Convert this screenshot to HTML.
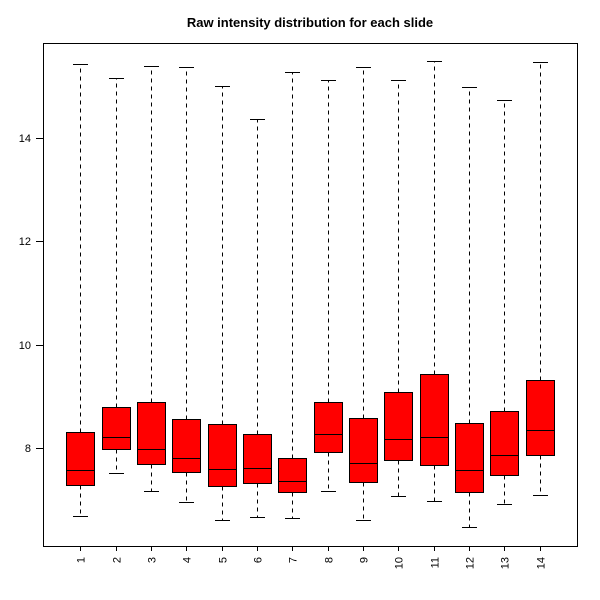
<!DOCTYPE html>
<html><head><meta charset="utf-8"><style>
html,body{margin:0;padding:0;background:#fff;}
svg{display:block;}
text{font-family:"Liberation Sans",Arial,sans-serif;fill:#000;}
</style></head><body>
<svg width="600" height="600" viewBox="0 0 600 600" xmlns="http://www.w3.org/2000/svg">
<rect x="0" y="0" width="600" height="600" fill="#fff"/>
<text x="310" y="27" text-anchor="middle" font-size="13" font-weight="bold">Raw intensity distribution for each slide</text>
<g stroke="#000" stroke-width="1" shape-rendering="crispEdges" fill="none">
<rect x="43.5" y="43.5" width="534" height="503"/>
<!-- y ticks -->
<line x1="36" y1="138.5" x2="43.5" y2="138.5"/>
<line x1="36" y1="241.5" x2="43.5" y2="241.5"/>
<line x1="36" y1="345.5" x2="43.5" y2="345.5"/>
<line x1="36" y1="448.5" x2="43.5" y2="448.5"/>
<!-- x ticks -->
<line x1="80.5" y1="546.5" x2="80.5" y2="551"/>
<line x1="116.5" y1="546.5" x2="116.5" y2="551"/>
<line x1="151.5" y1="546.5" x2="151.5" y2="551"/>
<line x1="186.5" y1="546.5" x2="186.5" y2="551"/>
<line x1="222.5" y1="546.5" x2="222.5" y2="551"/>
<line x1="257.5" y1="546.5" x2="257.5" y2="551"/>
<line x1="292.5" y1="546.5" x2="292.5" y2="551"/>
<line x1="328.5" y1="546.5" x2="328.5" y2="551"/>
<line x1="363.5" y1="546.5" x2="363.5" y2="551"/>
<line x1="398.5" y1="546.5" x2="398.5" y2="551"/>
<line x1="434.5" y1="546.5" x2="434.5" y2="551"/>
<line x1="469.5" y1="546.5" x2="469.5" y2="551"/>
<line x1="504.5" y1="546.5" x2="504.5" y2="551"/>
<line x1="540.5" y1="546.5" x2="540.5" y2="551"/>
</g>
<g font-size="11" text-anchor="end">
<text x="31" y="142">14</text>
<text x="31" y="245">12</text>
<text x="31" y="349">10</text>
<text x="31" y="452">8</text>
</g>
<g font-size="11" text-anchor="end">
<text transform="translate(84.5,557) rotate(-90)">1</text>
<text transform="translate(120.5,557) rotate(-90)">2</text>
<text transform="translate(155.5,557) rotate(-90)">3</text>
<text transform="translate(190.5,557) rotate(-90)">4</text>
<text transform="translate(226.5,557) rotate(-90)">5</text>
<text transform="translate(261.5,557) rotate(-90)">6</text>
<text transform="translate(296.5,557) rotate(-90)">7</text>
<text transform="translate(332.5,557) rotate(-90)">8</text>
<text transform="translate(367.5,557) rotate(-90)">9</text>
<text transform="translate(402.5,557) rotate(-90)">10</text>
<text transform="translate(438.5,557) rotate(-90)">11</text>
<text transform="translate(473.5,557) rotate(-90)">12</text>
<text transform="translate(508.5,557) rotate(-90)">13</text>
<text transform="translate(544.5,557) rotate(-90)">14</text>
</g>
<!-- whiskers dashed -->
<g stroke="#000" stroke-width="1" stroke-dasharray="4 4" shape-rendering="crispEdges" fill="none">
<line x1="80.5" y1="432.5" x2="80.5" y2="64.5"/><line x1="80.5" y1="485.5" x2="80.5" y2="516.5"/>
<line x1="116.5" y1="407.5" x2="116.5" y2="78.5"/><line x1="116.5" y1="449.5" x2="116.5" y2="473.5"/>
<line x1="151.5" y1="402.5" x2="151.5" y2="66.5"/><line x1="151.5" y1="464.5" x2="151.5" y2="491.5"/>
<line x1="186.5" y1="419.5" x2="186.5" y2="67.5"/><line x1="186.5" y1="472.5" x2="186.5" y2="502.5"/>
<line x1="222.5" y1="424.5" x2="222.5" y2="86.5"/><line x1="222.5" y1="486.5" x2="222.5" y2="520.5"/>
<line x1="257.5" y1="434.5" x2="257.5" y2="119.5"/><line x1="257.5" y1="483.5" x2="257.5" y2="517.5"/>
<line x1="292.5" y1="458.5" x2="292.5" y2="72.5"/><line x1="292.5" y1="492.5" x2="292.5" y2="518.5"/>
<line x1="328.5" y1="402.5" x2="328.5" y2="80.5"/><line x1="328.5" y1="452.5" x2="328.5" y2="491.5"/>
<line x1="363.5" y1="418.5" x2="363.5" y2="67.5"/><line x1="363.5" y1="482.5" x2="363.5" y2="520.5"/>
<line x1="398.5" y1="392.5" x2="398.5" y2="80.5"/><line x1="398.5" y1="460.5" x2="398.5" y2="496.5"/>
<line x1="434.5" y1="374.5" x2="434.5" y2="61.5"/><line x1="434.5" y1="465.5" x2="434.5" y2="501.5"/>
<line x1="469.5" y1="423.5" x2="469.5" y2="87.5"/><line x1="469.5" y1="492.5" x2="469.5" y2="527.5"/>
<line x1="504.5" y1="411.5" x2="504.5" y2="100.5"/><line x1="504.5" y1="475.5" x2="504.5" y2="504.5"/>
<line x1="540.5" y1="380.5" x2="540.5" y2="62.5"/><line x1="540.5" y1="455.5" x2="540.5" y2="495.5"/>
</g>
<!-- staples -->
<g stroke="#000" stroke-width="1" shape-rendering="crispEdges" fill="none">
<line x1="73" y1="64.5" x2="88" y2="64.5"/><line x1="73" y1="516.5" x2="88" y2="516.5"/>
<line x1="109" y1="78.5" x2="124" y2="78.5"/><line x1="109" y1="473.5" x2="124" y2="473.5"/>
<line x1="144" y1="66.5" x2="159" y2="66.5"/><line x1="144" y1="491.5" x2="159" y2="491.5"/>
<line x1="179" y1="67.5" x2="194" y2="67.5"/><line x1="179" y1="502.5" x2="194" y2="502.5"/>
<line x1="215" y1="86.5" x2="230" y2="86.5"/><line x1="215" y1="520.5" x2="230" y2="520.5"/>
<line x1="250" y1="119.5" x2="265" y2="119.5"/><line x1="250" y1="517.5" x2="265" y2="517.5"/>
<line x1="285" y1="72.5" x2="300" y2="72.5"/><line x1="285" y1="518.5" x2="300" y2="518.5"/>
<line x1="321" y1="80.5" x2="336" y2="80.5"/><line x1="321" y1="491.5" x2="336" y2="491.5"/>
<line x1="356" y1="67.5" x2="371" y2="67.5"/><line x1="356" y1="520.5" x2="371" y2="520.5"/>
<line x1="391" y1="80.5" x2="406" y2="80.5"/><line x1="391" y1="496.5" x2="406" y2="496.5"/>
<line x1="427" y1="61.5" x2="442" y2="61.5"/><line x1="427" y1="501.5" x2="442" y2="501.5"/>
<line x1="462" y1="87.5" x2="477" y2="87.5"/><line x1="462" y1="527.5" x2="477" y2="527.5"/>
<line x1="497" y1="100.5" x2="512" y2="100.5"/><line x1="497" y1="504.5" x2="512" y2="504.5"/>
<line x1="533" y1="62.5" x2="548" y2="62.5"/><line x1="533" y1="495.5" x2="548" y2="495.5"/>
</g>
<!-- boxes -->
<g stroke="#000" stroke-width="1" shape-rendering="crispEdges" fill="#ff0000">
<rect x="66.5" y="432.5" width="28" height="53"/>
<rect x="102.5" y="407.5" width="28" height="42"/>
<rect x="137.5" y="402.5" width="28" height="62"/>
<rect x="172.5" y="419.5" width="28" height="53"/>
<rect x="208.5" y="424.5" width="28" height="62"/>
<rect x="243.5" y="434.5" width="28" height="49"/>
<rect x="278.5" y="458.5" width="28" height="34"/>
<rect x="314.5" y="402.5" width="28" height="50"/>
<rect x="349.5" y="418.5" width="28" height="64"/>
<rect x="384.5" y="392.5" width="28" height="68"/>
<rect x="420.5" y="374.5" width="28" height="91"/>
<rect x="455.5" y="423.5" width="28" height="69"/>
<rect x="490.5" y="411.5" width="28" height="64"/>
<rect x="526.5" y="380.5" width="28" height="75"/>
</g>
<!-- medians -->
<g stroke="#000" stroke-width="1" shape-rendering="crispEdges" fill="none">
<line x1="66.5" y1="470.5" x2="94.5" y2="470.5"/>
<line x1="102.5" y1="437.5" x2="130.5" y2="437.5"/>
<line x1="137.5" y1="449.5" x2="165.5" y2="449.5"/>
<line x1="172.5" y1="458.5" x2="200.5" y2="458.5"/>
<line x1="208.5" y1="469.5" x2="236.5" y2="469.5"/>
<line x1="243.5" y1="468.5" x2="271.5" y2="468.5"/>
<line x1="278.5" y1="481.5" x2="306.5" y2="481.5"/>
<line x1="314.5" y1="434.5" x2="342.5" y2="434.5"/>
<line x1="349.5" y1="463.5" x2="377.5" y2="463.5"/>
<line x1="384.5" y1="439.5" x2="412.5" y2="439.5"/>
<line x1="420.5" y1="437.5" x2="448.5" y2="437.5"/>
<line x1="455.5" y1="470.5" x2="483.5" y2="470.5"/>
<line x1="490.5" y1="455.5" x2="518.5" y2="455.5"/>
<line x1="526.5" y1="430.5" x2="554.5" y2="430.5"/>
</g>
</svg>
</body></html>
